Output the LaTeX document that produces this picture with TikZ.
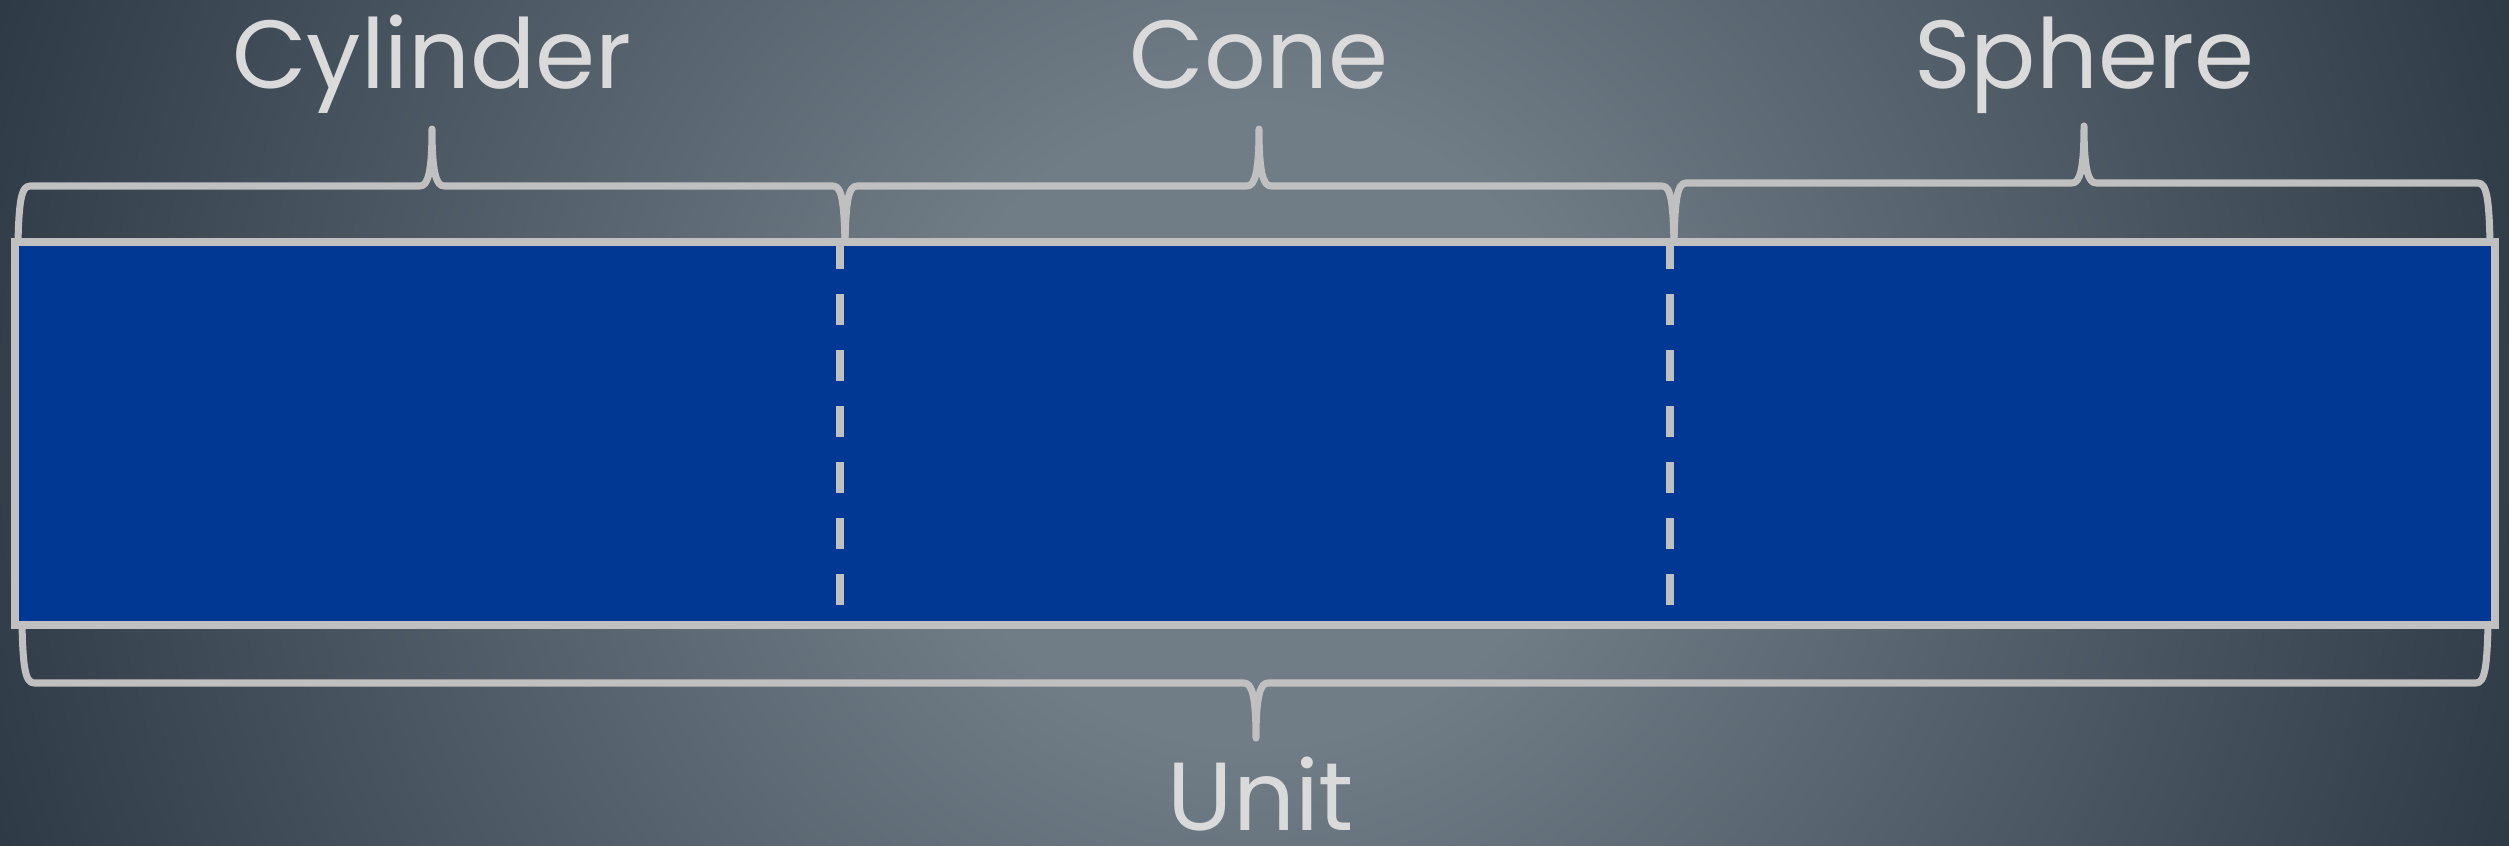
\documentclass[tikz,border=0pt]{standalone}
\usepackage{fontspec}
\setmainfont{Poppins}
\usetikzlibrary{calc}
\definecolor{unitBlue}{HTML}{003893}
\definecolor{lineGray}{HTML}{C0C0C0}
\definecolor{labelGray}{HTML}{DADADA}
\definecolor{bgLight}{HTML}{707C86}
\definecolor{bgDark}{HTML}{2C3843}

\pgfdeclareradialshading{bgglow}{\pgfpoint{0bp}{0bp}}{%
  color(0bp)=(bgLight); color(6bp)=(bgLight); color(25bp)=(bgDark); color(50bp)=(bgDark)}

\tikzset{
  brace line/.style={draw=lineGray, line width=2pt, line join=round, line cap=round},
  divider/.style={draw=lineGray, line width=2.3pt, dash pattern=on 0.31cm off 0.25cm},
  part label/.style={text=labelGray, font=\fontsize{27.5}{33}\selectfont,
                     anchor=base, inner sep=0pt},
}

% curly brace: #1 left end, #2 right end, #3 tip x, #4 end y, #5 bar y, #6 tip y
\newcommand\curlybrace[6]{%
  \pgfmathsetmacro\endy{#5+0.3*(#4-#5)}%
  \pgfmathsetmacro\tipy{#5+0.25*(#6-#5)}%
  \draw[brace line] (#1,#4)
    .. controls ({#1+1},\endy) and ({#1+3},#5) .. ({#1+12},#5)
    -- ({#3-12},#5)
    .. controls ({#3-4},#5) and (#3,\tipy) .. (#3,#6)
    .. controls (#3,\tipy) and ({#3+4},#5) .. ({#3+12},#5)
    -- ({#2-12},#5)
    .. controls ({#2-3},#5) and ({#2-1},\endy) .. (#2,#4);
}

\begin{document}
\begin{tikzpicture}[x=0.01cm, y=-0.01cm]
  \useasboundingbox (0,0) rectangle (2509,846);

  % background glow
  \begin{scope}
    \clip (0,0) rectangle (2509,846);
    \shade[shading=bgglow] (-100,-900) rectangle (2609,1750);
  \end{scope}

  % the bar split in three parts
  \node[draw=lineGray, fill=unitBlue, line width=2.3pt, inner sep=0pt,
        minimum width=24.78cm, minimum height=3.83cm] (bar) at (1255,433.5) {};
  \coordinate (cutA top) at ($(bar.north west)!1/3!(bar.north east)$);
  \coordinate (cutA bot) at ($(bar.south west)!1/3!(bar.south east)$);
  \coordinate (cutB top) at ($(bar.north west)!2/3!(bar.north east)$);
  \coordinate (cutB bot) at ($(bar.south west)!2/3!(bar.south east)$);
  \draw[divider] (cutA top) -- (cutA bot);
  \draw[divider] (cutB top) -- (cutB bot);

  % braces
  \curlybrace{18}{845}{432}{242}{186}{129}
  \curlybrace{845}{1674}{1259}{242}{186}{129}
  \curlybrace{1674}{2490}{2084}{242}{183}{126}
  \curlybrace{22}{2488}{1256}{625}{683}{738}

  % labels
  \node[part label] (cylinder) at (432,89) {Cylinder};
  \node[part label] (cone) at (1259,89) {Cone};
  \node[part label] (sphere) at (2084,89) {Sphere};
  \node[part label] (unit) at (1261,830) {Unit};
\end{tikzpicture}
\end{document}
